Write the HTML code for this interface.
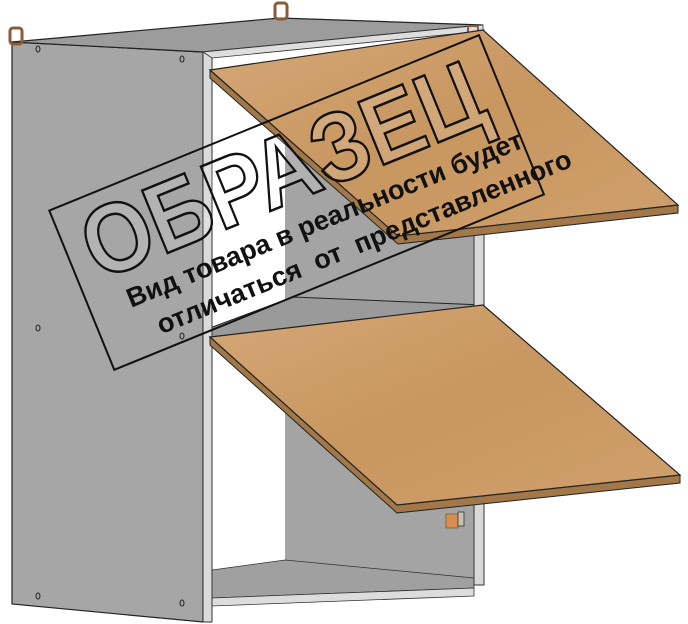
<!DOCTYPE html>
<html><head><meta charset="utf-8"><style>
html,body{margin:0;padding:0;background:#fff;}
#c{position:relative;width:688px;height:624px;overflow:hidden;}
svg{position:absolute;left:0;top:0;}
#stamp{position:absolute;left:48px;top:210px;width:466px;height:174px;border:2px solid #111;box-sizing:border-box;transform-origin:0 0;transform:rotate(-22.2deg);font-family:"Liberation Sans","DejaVu Sans",sans-serif;}
#big{position:absolute;left:18px;top:0px;font-size:98px;font-weight:bold;letter-spacing:0px;color:rgba(255,255,255,0.15);-webkit-text-stroke:2.5px #111;white-space:nowrap;line-height:1;transform-origin:0 0;transform:scaleX(0.9);}
.l{position:absolute;font-size:27px;font-weight:bold;color:#111;white-space:nowrap;line-height:1;}
</style></head><body><div id="c">
<svg width="688" height="624" viewBox="0 0 688 624">
<defs>
<linearGradient id="w" x1="0" y1="0" x2="1" y2="1">
<stop offset="0" stop-color="#d5a877"/><stop offset="0.5" stop-color="#c8965f"/><stop offset="1" stop-color="#d0a06d"/>
</linearGradient>
</defs>
<rect x="212" y="55" width="272" height="560" fill="#fff"/>
<polygon points="285,60 474,40 474,585 285,565" fill="#a4a4a4"/>
<polygon points="210,328 293,297 483,305 483,312 210,337" fill="#9a9a9a" stroke="#222" stroke-width="1"/>
<polygon points="212,570 285,560 474,578 474,588 212,598" fill="#a0a0a0" stroke="#333" stroke-width="0.8"/>
<polygon points="212,598 474,588 474,596 212,606" fill="#ddd" stroke="#333" stroke-width="0.8"/>
<polygon points="474,30 484,30 484,585 474,585" fill="#d8d8d8" stroke="#333" stroke-width="1"/>
<polygon points="12,42 203,52 203,622 12,604" fill="#a6a6a6" stroke="#222" stroke-width="1.2"/>
<polygon points="203,52 212,55 212,622 203,622" fill="#dadada" stroke="#333" stroke-width="1"/>
<polygon points="12,42 280,18 483,25 203,52" fill="#9c9c9c" stroke="#222" stroke-width="1.2"/>
<polygon points="203,52 483,25 483,31 212,58" fill="#dedede" stroke="#333" stroke-width="0.8"/>
<rect x="10" y="28" width="12" height="16" rx="3" fill="none" stroke="#8a5a3a" stroke-width="3"/>
<rect x="275" y="3" width="12" height="16" rx="3" fill="none" stroke="#8a5a3a" stroke-width="3"/>
<rect x="468" y="26" width="10" height="10" rx="2" fill="none" stroke="#8a5a3a" stroke-width="2"/>
<g fill="none" stroke="#222" stroke-width="1">
<ellipse cx="38" cy="49" rx="2" ry="3"/><ellipse cx="182" cy="59" rx="2" ry="3"/>
<ellipse cx="38" cy="328" rx="2" ry="3"/><ellipse cx="182" cy="336" rx="2" ry="3"/>
<ellipse cx="38" cy="596" rx="2" ry="3"/><ellipse cx="182" cy="603" rx="2" ry="3"/>
</g>
<polygon points="210,70 398,236 678,205 678,213 398,244 210,78" fill="#a27848" stroke="#222" stroke-width="1"/>
<polygon points="210,70 483,30 678,205 398,236" fill="url(#w)" stroke="#222" stroke-width="1.2"/>
<polygon points="210,337 397,505 680,475 680,483 397,513 210,345" fill="#a27848" stroke="#222" stroke-width="1"/>
<polygon points="210,337 483,305 680,475 397,505" fill="url(#w)" stroke="#222" stroke-width="1.2"/>
<rect x="446" y="514" width="12" height="14" fill="#d98c4e" stroke="#663" stroke-width="0.8"/>
<rect x="458" y="512" width="6" height="14" fill="#c9c0b0" stroke="#333" stroke-width="0.8"/>
</svg>
<div id="stamp">
<div id="big">ОБРАЗЕЦ</div>
<div class="l" style="top:98px;left:38px;">Вид товара в реальности будет</div>
<div class="l" style="top:134px;left:56px;">отличаться&nbsp; от&nbsp; представленного</div>
</div>
</div></body></html>
